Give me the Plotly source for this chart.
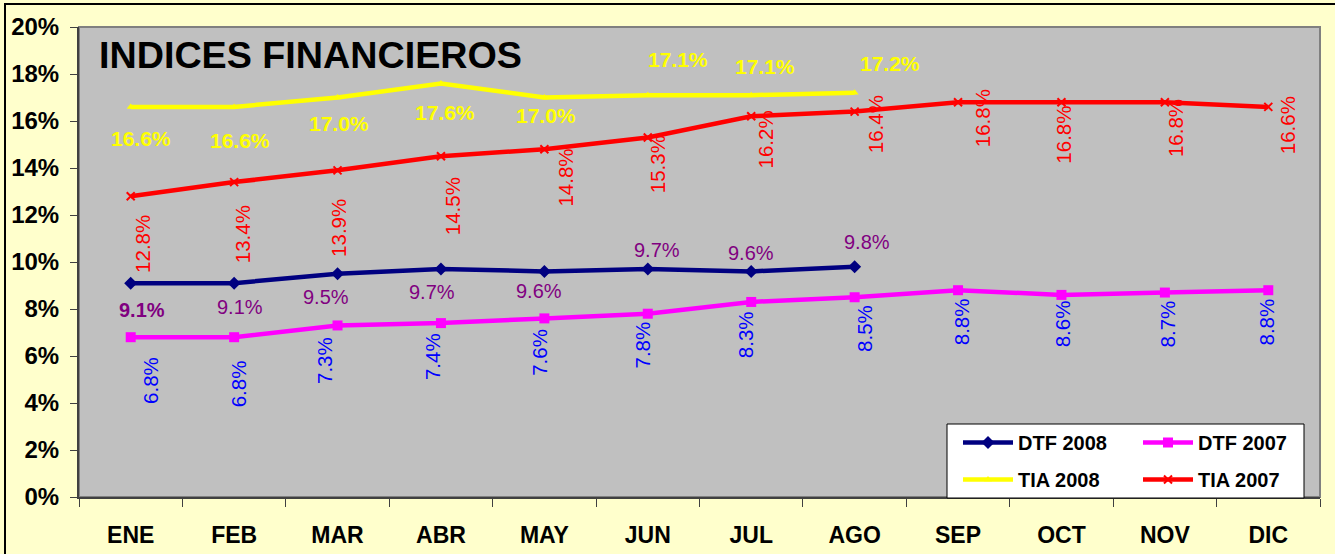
import plotly.graph_objects as go

# ---------------- data ----------------
months = ["ENE", "FEB", "MAR", "ABR", "MAY", "JUN", "JUL", "AGO", "SEP", "OCT", "NOV", "DIC"]
dtf_2008 = [9.1, 9.1, 9.5, 9.7, 9.6, 9.7, 9.6, 9.8]
dtf_2007 = [6.8, 6.8, 7.3, 7.4, 7.6, 7.8, 8.3, 8.5, 8.8, 8.6, 8.7, 8.8]
tia_2008 = [16.6, 16.6, 17.0, 17.6, 17.0, 17.1, 17.1, 17.2]
tia_2007 = [12.8, 13.4, 13.9, 14.5, 14.8, 15.3, 16.2, 16.4, 16.8, 16.8, 16.8, 16.6]
y_tick_values = [0, 2, 4, 6, 8, 10, 12, 14, 16, 18, 20]
title_text = "INDICES FINANCIEROS"

# ---------------- label placement (pixel offsets from each point: dx right, dy down) ----------------
dtf_2008_lbl_off = [(11, 27), (6, 24), (-12, 23), (-9, 23), (-5, 20), (9, -19), (0, -18), (12, -25)]
dtf_2007_lbl_off = [(19, 43), (4, 47), (-13, 35), (-9, 33), (-5, 34), (-5, 31), (-5, 33), (10, 31),
                    (3, 32), (1, 29), (3, 31), (-2, 32)]
tia_2008_lbl_off = [(10, 32), (6, 34), (1, 26), (4, 29), (2, 18), (30, -36), (14, -29), (35, -29)]
tia_2007_lbl_off = [(11, 48), (8, 52), (1, 58), (11, 50), (21, 28), (10, 27), (14, 23), (21, 13),
                    (24, 16), (2, 32), (10, 26), (20, 18)]

FONT = "Arial, Liberation Sans, sans-serif"
W, H = 1335, 554
ML, MR, MT, MB = 79, 15, 27, 57
PW, PH = W - ML - MR, H - MT - MB


def px_x(p):
    return (p - ML) / PW


def px_y(p):
    return (H - MB - p) / PH


fig = go.Figure()

fig.add_trace(go.Scatter(
    x=months[:len(dtf_2008)], y=dtf_2008, name="DTF 2008", mode="lines+markers",
    line=dict(color="#000080", width=4.5), marker=dict(symbol="diamond", size=10, color="#000080"),
    legend="legend", legendgroup="a", hoverinfo="skip"))
fig.add_trace(go.Scatter(
    x=months[:len(dtf_2007)], y=dtf_2007, name="DTF 2007", mode="lines+markers",
    line=dict(color="#FF00FF", width=4.5), marker=dict(symbol="square", size=10, color="#FF00FF"),
    legend="legend2", legendgroup="b", hoverinfo="skip"))
fig.add_trace(go.Scatter(
    x=months[:len(tia_2008)], y=tia_2008, name="TIA 2008", mode="lines+markers",
    line=dict(color="#FFFF00", width=4.5), marker=dict(symbol="triangle-up", size=7, color="#FFFF00"),
    legend="legend", legendgroup="c", hoverinfo="skip"))
fig.add_trace(go.Scatter(
    x=months[:len(tia_2007)], y=tia_2007, name="TIA 2007", mode="lines+markers",
    line=dict(color="#FF0000", width=4.5),
    marker=dict(symbol="x-thin", size=8, color="#FF0000", line=dict(color="#FF0000", width=2)),
    legend="legend2", legendgroup="d", hoverinfo="skip"))


def add_labels(values, offsets, color, angle, size, bold_first=False, bold_all=False):
    for i, (v, (dx, dy)) in enumerate(zip(values, offsets)):
        txt = f"{v:.1f}%"
        if bold_all or (bold_first and i == 0):
            txt = f"<b>{txt}</b>"
        fig.add_annotation(
            x=months[i], y=v, xref="x", yref="y", text=txt, showarrow=False,
            textangle=angle, xanchor="center", yanchor="middle",
            xshift=dx, yshift=-dy,
            font=dict(family=FONT, size=size, color=color))


add_labels(tia_2007, tia_2007_lbl_off, "#FF0000", -90, 20.5)
add_labels(dtf_2007, dtf_2007_lbl_off, "#0000FF", -90, 20.5)
add_labels(dtf_2008, dtf_2008_lbl_off, "#800080", 0, 20, bold_first=True)
add_labels(tia_2008, tia_2008_lbl_off, "#FFFF00", 0, 21, bold_all=True)

# title inside the plot area
fig.add_annotation(
    x=px_x(97), y=px_y(55), xref="paper", yref="paper", text=f"<b>{title_text}</b>",
    showarrow=False, xanchor="left", yanchor="middle",
    font=dict(family=FONT, size=37.7, color="#000000"))

# outer chart frame
fig.add_shape(type="rect", xref="paper", yref="paper",
              x0=px_x(5), x1=px_x(1345), y0=px_y(565), y1=px_y(4),
              line=dict(color="#000000", width=2), fillcolor="rgba(0,0,0,0)", layer="above")
# plot-area border
fig.add_shape(type="rect", xref="paper", yref="paper", x0=0, x1=1, y0=0, y1=1,
              line=dict(color="#808080", width=2), fillcolor="rgba(0,0,0,0)", layer="below")
# legend box
fig.add_shape(type="rect", xref="paper", yref="paper",
              x0=px_x(947), x1=px_x(1304), y0=px_y(498), y1=px_y(424),
              line=dict(color="#000000", width=1), fillcolor="#FFFFFF", layer="above")

legend_font = dict(family=FONT, size=20, color="#000000", weight="bold")
fig.update_layout(
    width=W, height=H,
    margin=dict(l=ML, r=MR, t=MT, b=MB, pad=0, autoexpand=False),
    paper_bgcolor="#FFFFCC",
    plot_bgcolor="#C0C0C0",
    showlegend=True,
    legend=dict(x=px_x(958), y=px_y(423), xanchor="left", yanchor="top",
                bgcolor="rgba(0,0,0,0)", borderwidth=0, font=legend_font,
                tracegroupgap=8, itemwidth=50, orientation="v"),
    legend2=dict(x=px_x(1138), y=px_y(423), xanchor="left", yanchor="top",
                 bgcolor="rgba(0,0,0,0)", borderwidth=0, font=legend_font,
                 tracegroupgap=8, itemwidth=50, orientation="v"),
    xaxis=dict(
        type="category", categoryorder="array", categoryarray=months,
        range=[-0.5, len(months) - 0.5],
        showgrid=False, zeroline=False, automargin=False,
        showline=True, linecolor="#404040", linewidth=2,
        ticks="outside", tickson="boundaries", ticklen=8, tickcolor="#404040", tickwidth=1,
        tickfont=dict(family=FONT, size=23, color="#000000", weight="bold"),
        ticklabelstandoff=16,
    ),
    yaxis=dict(
        range=[0, 20], tickvals=y_tick_values,
        ticktext=[f"{v}%" for v in y_tick_values],
        showgrid=False, zeroline=False, automargin=False,
        showline=True, linecolor="#404040", linewidth=2,
        ticks="outside", ticklen=7, tickcolor="#404040", tickwidth=1,
        tickfont=dict(family=FONT, size=24, color="#000000", weight="bold"),
        ticklabelstandoff=6,
    ),
)

fig.write_html("out.html", config={"displayModeBar": False},
               post_script="document.body.style.margin='0';document.body.style.overflow='hidden';")
